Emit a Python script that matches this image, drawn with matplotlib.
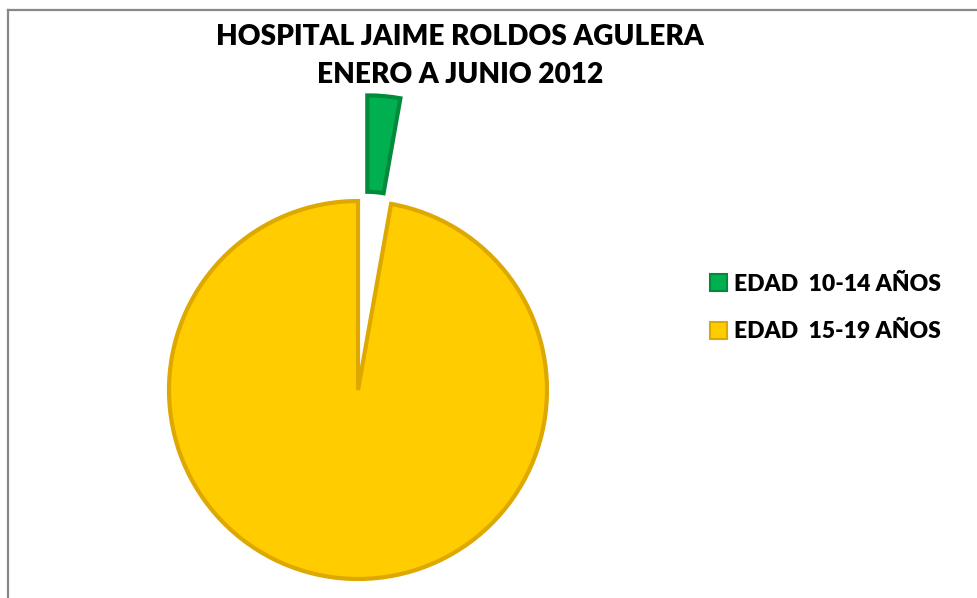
import matplotlib.pyplot as plt
from matplotlib.lines import Line2D

# datos (valores estimados del grafico)
labels = ["EDAD  10-14 AÑOS", "EDAD  15-19 AÑOS"]
values = [14, 486]
colors = ["#00B050", "#FFCC00"]
edges = ["#008A3C", "#DDA800"]
title = "HOSPITAL JAIME ROLDOS AGULERA\nENERO A JUNIO 2012"

W, H = 977, 598
fig = plt.figure(figsize=(W / 100, H / 100), dpi=100)
ax = fig.add_axes([0, 0, 1, 1])

# pie en coordenadas de pixel (explode va en las mismas unidades)
R = 189
cx, cy = 358, H - 390
wedges, _ = ax.pie(values, colors=colors, startangle=90, counterclock=False,
                   explode=[106, 0], radius=R, center=(cx, cy),
                   wedgeprops=dict(linewidth=3))
for w, ec in zip(wedges, edges):
    w.set_edgecolor(ec)
# la porcion verde se ve cortada por dentro
wedges[0].set_width(R * 0.51)

ax.set_xlim(0, W)
ax.set_ylim(0, H)
ax.set_aspect("auto")
ax.axis("off")

fig.text(460 / W, 1 - 56 / H, title, ha="center", va="center",
         fontsize=20.2, fontweight="heavy", family="Lato", linespacing=1.6)

leg = ax.legend(wedges, labels, loc="center left",
                bbox_to_anchor=(689 / W, 1 - 308 / H), bbox_transform=fig.transFigure,
                frameon=False, handlelength=0.75, handleheight=0.75, handletextpad=0.3,
                labelspacing=1.15, prop=dict(family="Lato", weight="heavy", size=16.5))
for h in leg.legend_handles:
    h.set_linewidth(1.5)

# borde gris del area del grafico
fig.add_artist(Line2D([7.5 / W, 7.5 / W], [0, 1 - 9.5 / H], color="#888888", lw=1.6))
fig.add_artist(Line2D([7.5 / W, 1], [1 - 9.5 / H, 1 - 9.5 / H], color="#888888", lw=1.6))

fig.savefig("out.png", dpi=100)
